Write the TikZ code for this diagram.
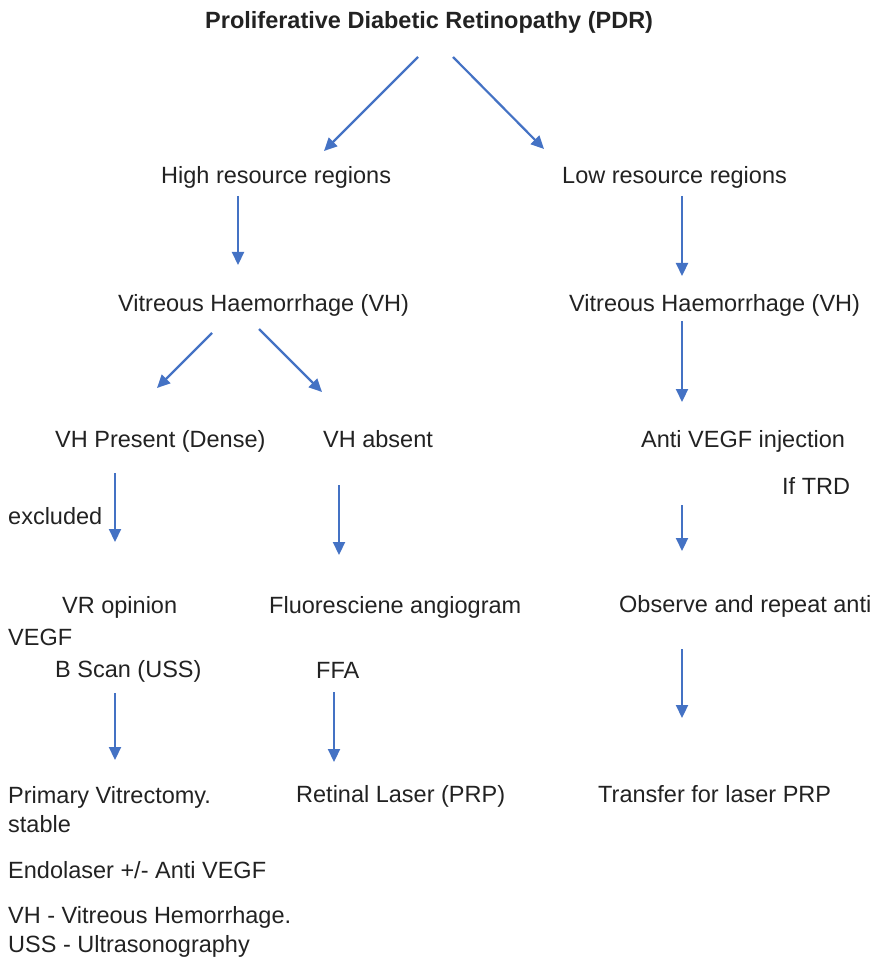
\documentclass[tikz,border=0pt]{standalone}
\usepackage{fontspec}
\setmainfont{Liberation Sans}
\usetikzlibrary{arrows.meta}
\definecolor{txtgray}{HTML}{222222}
\definecolor{arrblue}{HTML}{4472C4}
\begin{document}
\begin{tikzpicture}[x=1pt,y=-1pt,
  txt node/.style={anchor=base west,inner sep=0pt,text=txtgray,font=\fontsize{23.5}{28}\selectfont},
  arr/.style={draw=arrblue,line width=2.2pt,-{Triangle[length=13pt,width=12pt]}}]

  \useasboundingbox (0,0) rectangle (878,957);

  \node[txt node,font=\fontsize{23.5}{28}\selectfont\bfseries] (pdr) at (205,29) {Proliferative Diabetic Retinopathy (PDR)};
  \node[txt node] (hr) at (161,184) {High resource regions};
  \node[txt node] (lr) at (562,184) {Low resource regions};
  \node[txt node] (vhl) at (118,311) {Vitreous Haemorrhage (VH)};
  \node[txt node] (vhr) at (569,311) {Vitreous Haemorrhage (VH)};
  \node[txt node] (vhp) at (55,447) {VH Present (Dense)};
  \node[txt node] (vha) at (323,447) {VH absent};
  \node[txt node] (avi) at (641,447) {Anti VEGF injection};
  \node[txt node] (trd) at (782,494) {If TRD};
  \node[txt node] (excl) at (8,524) {excluded};
  \node[txt node] (vro) at (62,613) {VR opinion};
  \node[txt node] (vegf) at (8,645) {VEGF};
  \node[txt node] (bscan) at (55,677) {B Scan (USS)};
  \node[txt node] (fa) at (269,613) {Fluoresciene angiogram};
  \node[txt node] (obs) at (619,612) {Observe and repeat anti};
  \node[txt node] (ffa) at (316,678) {FFA};
  \node[txt node] (pv) at (8,803) {Primary Vitrectomy.};
  \node[txt node] (stab) at (8,832) {stable};
  \node[txt node] (rl) at (296,802) {Retinal Laser (PRP)};
  \node[txt node] (tr) at (598,802) {Transfer for laser PRP};
  \node[txt node] (endo) at (8,878) {Endolaser +/- Anti VEGF};
  \node[txt node] (abb1) at (8,923) {VH - Vitreous Hemorrhage.};
  \node[txt node] (abb2) at (8,952) {USS - Ultrasonography};

  \path[every edge/.style={arr}]
   ([shift={(213,28)}]pdr.base west) edge ([shift={(163,-33)}]hr.base west)
   ([shift={(248,28)}]pdr.base west) edge ([shift={(-18,-35)}]lr.base west)
   ([shift={(77,12)}]hr.base west) edge ([shift={(120,-46)}]vhl.base west)
   ([shift={(120,12)}]lr.base west) edge ([shift={(113,-35)}]vhr.base west)
   ([shift={(113,10)}]vhr.base west) edge ([shift={(41,-45)}]avi.base west)
   ([shift={(94,22)}]vhl.base west) edge ([shift={(102,-59)}]vhp.base west)
   ([shift={(141,18)}]vhl.base west) edge ([shift={(-1,-55)}]vha.base west)
   ([shift={(60,26)}]vhp.base west) edge ([shift={(53,-71)}]vro.base west)
   ([shift={(16,38)}]vha.base west) edge ([shift={(70,-58)}]fa.base west)
   ([shift={(41,58)}]avi.base west) edge ([shift={(63,-61)}]obs.base west)
   ([shift={(63,37)}]obs.base west) edge ([shift={(84,-84)}]tr.base west)
   ([shift={(60,16)}]bscan.base west) edge ([shift={(107,-43)}]pv.base west)
   ([shift={(18,14)}]ffa.base west) edge ([shift={(38,-40)}]rl.base west);
\end{tikzpicture}
\end{document}
